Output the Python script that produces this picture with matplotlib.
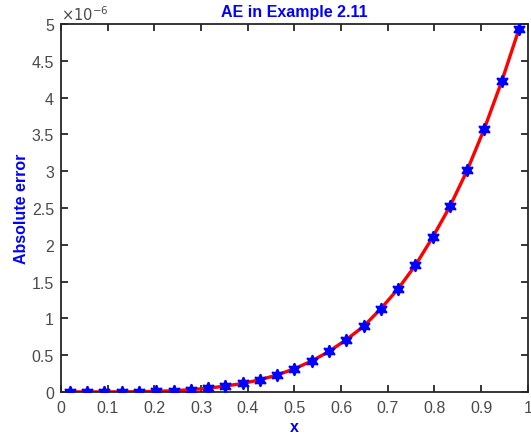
import numpy as np
import matplotlib
matplotlib.use('Agg')
import matplotlib.pyplot as plt

plt.rcParams['font.family'] = ['Liberation Sans', 'DejaVu Sans']

# sample points (27 midpoints on [0, 1])
x_pts = [0.019, 0.056, 0.093, 0.130, 0.167, 0.204, 0.241, 0.278, 0.315,
         0.352, 0.389, 0.426, 0.463, 0.500, 0.537, 0.574, 0.611, 0.648,
         0.685, 0.722, 0.759, 0.796, 0.833, 0.870, 0.907, 0.944, 0.981]
# absolute error, in units of 1e-6
abs_err_e6 = [0.0, 0.0, 0.0, 0.001, 0.002, 0.008, 0.016, 0.03, 0.05,
              0.08, 0.115, 0.165, 0.23, 0.315, 0.42, 0.55, 0.71, 0.89,
              1.13, 1.40, 1.72, 2.10, 2.52, 3.01, 3.58, 4.22, 4.93]

x_ticks = [0, 0.1, 0.2, 0.3, 0.4, 0.5, 0.6, 0.7, 0.8, 0.9, 1]
x_ticklabels = ['0', '0.1', '0.2', '0.3', '0.4', '0.5', '0.6', '0.7', '0.8', '0.9', '1']
y_ticks = [0, 0.5, 1, 1.5, 2, 2.5, 3, 3.5, 4, 4.5, 5]
y_ticklabels = ['0', '0.5', '1', '1.5', '2', '2.5', '3', '3.5', '4', '4.5', '5']

fig = plt.figure(figsize=(5.31, 4.39), dpi=100)
ax = fig.add_axes([0.115, 0.105, 0.879, 0.838])

ax.plot(x_pts, abs_err_e6, '-', color='red', lw=2.4, zorder=2)
# six-pointed star, like the matlab '*' marker drawn thick
ax.plot(x_pts, abs_err_e6, ls='none', marker=(6, 1, 0), color='blue',
        ms=9, mec='blue', mew=1.2, zorder=3)

ax.set_xlim(0, 1)
ax.set_ylim(0, 5)
ax.set_xticks(x_ticks)
ax.set_xticklabels(x_ticklabels)
ax.set_yticks(y_ticks)
ax.set_yticklabels(y_ticklabels)

dark = '#262626'
for s in ax.spines.values():
    s.set_color(dark)
    s.set_linewidth(1.3)
ax.tick_params(direction='in', top=True, right=True, length=5, width=1.3,
               color=dark, labelcolor='#4a4a4a', labelsize=11.5)
ax.tick_params(axis='x', pad=6)
ax.tick_params(axis='y', pad=5)

ax.text(0.0, 1.003, r'$\times10^{-6}$', transform=ax.transAxes, fontsize=10.5,
        color='#4a4a4a', ha='left', va='bottom')

ax.set_title('AE in Example 2.11', color='blue', fontweight='bold', fontsize=11.5, pad=6)
ax.set_xlabel('x', color='blue', fontweight='bold', fontsize=11.5, labelpad=3)
ax.set_ylabel('Absolute error', color='blue', fontweight='bold', fontsize=11.5, labelpad=2)

fig.savefig('out.png', dpi=100)
